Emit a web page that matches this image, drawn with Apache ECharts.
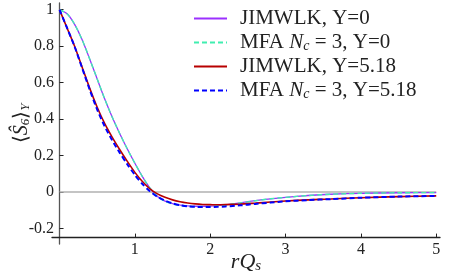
<!DOCTYPE html>
<html><head><meta charset="utf-8">
<script src="https://cdn.jsdelivr.net/npm/echarts@6/dist/echarts.min.js"></script>
<style>html,body{margin:0;padding:0;background:#fff}#c{width:453px;height:277px}</style>
</head><body><div id="c"></div>
<script>
const xVals = [0,0.1,0.2,0.3,0.4,0.5,0.6,0.7,0.8,0.9,1.0,1.1,1.2,1.3,1.4,1.5,1.6,1.7,1.8,1.9,2.0,2.1,2.2,2.4,2.6,2.8,3.0,3.3,3.6,4.0,4.5,5.0];
const jimY0 = [1.0,0.978,0.92,0.835,0.73,0.62,0.51,0.41,0.32,0.236,0.158,0.085,0.022,-0.024,-0.05,-0.064,-0.072,-0.076,-0.078,-0.078,-0.077,-0.074,-0.07,-0.059,-0.047,-0.037,-0.029,-0.019,-0.012,-0.007,-0.004,-0.003];
const mfaY0 = [1.0,0.978,0.92,0.835,0.73,0.62,0.51,0.41,0.32,0.236,0.158,0.085,0.022,-0.025,-0.051,-0.065,-0.073,-0.077,-0.079,-0.079,-0.078,-0.075,-0.071,-0.06,-0.048,-0.037,-0.029,-0.019,-0.012,-0.007,-0.004,-0.003];
const jimY518 = [1.0,0.9,0.8,0.685,0.57,0.465,0.375,0.3,0.232,0.168,0.108,0.058,0.018,-0.01,-0.029,-0.043,-0.053,-0.06,-0.065,-0.068,-0.069,-0.07,-0.069,-0.066,-0.061,-0.055,-0.049,-0.043,-0.038,-0.031,-0.025,-0.021];
const mfaY518 = [1.0,0.9,0.798,0.68,0.562,0.452,0.36,0.283,0.215,0.152,0.094,0.044,0.004,-0.026,-0.047,-0.062,-0.072,-0.078,-0.081,-0.082,-0.082,-0.081,-0.079,-0.073,-0.065,-0.058,-0.051,-0.044,-0.039,-0.031,-0.025,-0.021];
const zeroLineX = [0,5];
const zeroLineY = [0,0];
const xTicks = [1,2,3,4,5];
const yTicks = [-0.2,0,0.2,0.4,0.6,0.8,1];
const seriesNames = ['JIMWLK, Y=0','MFA Nc = 3, Y=0','JIMWLK, Y=5.18','MFA Nc = 3, Y=5.18'];
const legendLabels = {
  'JIMWLK, Y=0':'JIMWLK, Y=0',
  'MFA Nc = 3, Y=0':'MFA {i|N}{sub|c} = 3, Y=0',
  'JIMWLK, Y=5.18':'JIMWLK, Y=5.18',
  'MFA Nc = 3, Y=5.18':'MFA {i|N}{sub|c} = 3, Y=5.18'
};
const zip = (xs, ys) => xs.map((x,i)=>[x, ys[i]]);
const FONT = 'Liberation Serif';
const chart = echarts.init(document.getElementById('c'), null, {renderer:'canvas'});
const mk = (name, ys, color, width, type, z) => ({
  name, type:'line', data: zip(xVals, ys), showSymbol:false, symbol:'none', smooth:0.25,
  lineStyle:{color, width, type}, itemStyle:{color}, z, animation:false
});
chart.setOption({
  animation:false,
  grid:{left:52, right:13, top:3, bottom:33, containLabel:false, outerBoundsMode:'none'},
  xAxis:{type:'value', min:-0.1, max:5.05,
    axisLine:{onZero:false, lineStyle:{color:'#222', width:1.3}},
    offset:-6.4,
    splitLine:{show:false},
    axisTick:{inside:true, length:4, customValues:xTicks, lineStyle:{color:'#222'}},
    axisLabel:{customValues:xTicks, margin:4, color:'#222', fontFamily:FONT, fontSize:16},
    name:'{i|rQ}{sub|s}', nameLocation:'middle', nameGap:13, nameMoveOverlap:false,
    nameTextStyle:{verticalAlign:'top', rich:{
      i:{fontFamily:FONT, fontStyle:'italic', fontSize:22, color:'#222'},
      sub:{fontFamily:FONT, fontStyle:'italic', fontSize:15, color:'#222', verticalAlign:'bottom', padding:[8,0,0,0]}
    }}
  },
  yAxis:{type:'value', min:-0.285, max:1.037,
    axisLine:{onZero:true, lineStyle:{color:'#555', width:1.3}},
    splitLine:{show:false},
    axisTick:{inside:true, length:4, customValues:yTicks, lineStyle:{color:'#222'}},
    axisLabel:{customValues:yTicks, margin:-2, color:'#222', fontFamily:FONT, fontSize:16},
    name:'⟨{h|Ŝ}{sub|6}⟩{sub|Y}', nameLocation:'middle', nameRotate:90, nameGap:20, nameMoveOverlap:false,
    nameTextStyle:{rich:{
      h:{fontFamily:FONT, fontStyle:'italic', fontSize:20, color:'#222'},
      sub:{fontFamily:FONT, fontStyle:'italic', fontSize:13, color:'#222', verticalAlign:'bottom', padding:[8,0,0,0]}
    }, fontFamily:FONT, fontSize:20, color:'#222'}
  },
  legend:{data:seriesNames, orient:'vertical', left:188, top:3, itemWidth:33, itemHeight:12, itemGap:3,
    itemStyle:{opacity:0},
    formatter:(n)=>legendLabels[n],
    textStyle:{fontFamily:FONT, fontSize:21, color:'#222', lineHeight:21, padding:[0,0,0,8],
      rich:{
        i:{fontFamily:FONT, fontStyle:'italic', fontSize:21, color:'#222'},
        sub:{fontFamily:FONT, fontStyle:'italic', fontSize:14, color:'#222', verticalAlign:'bottom', padding:[7,0,0,0]}
      }}
  },
  series:[
    {name:'zero', type:'line', data:zip(zeroLineX, zeroLineY), showSymbol:false, symbol:'none',
      lineStyle:{color:'#b0b0b0', width:1.5}, z:1, silent:true},
    mk(seriesNames[0], jimY0, '#9b30ff', 1.3, 'solid', 2),
    mk(seriesNames[1], mfaY0, '#40eeb0', 1.4, [5,3], 3),
    mk(seriesNames[2], jimY518, '#b80000', 1.6, 'solid', 4),
    mk(seriesNames[3], mfaY518, '#0000ff', 2.0, [5,3], 5)
  ]
});
</script></body></html>
